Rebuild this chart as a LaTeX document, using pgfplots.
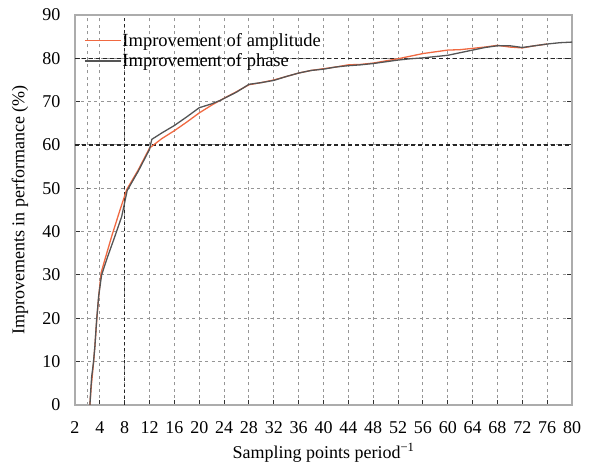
\documentclass[border=0pt]{standalone}
\usepackage{pgfplots}
\pgfplotsset{compat=1.18}
\usepackage{fontspec}
\setmainfont{Liberation Serif}
\definecolor{ampcol}{RGB}{240,105,65}
\definecolor{phacol}{RGB}{85,85,85}
\definecolor{gridcol}{RGB}{150,150,150}
\begin{document}
\begin{tikzpicture}
\begin{axis}[name=ax, scale only axis, width=497pt, height=390pt,
  xmin=0, xmax=20, ymin=0, ymax=90,
  xtick={0,...,20},
  xticklabels={2,4,8,12,16,20,24,28,32,36,40,44,48,52,56,60,64,68,72,76,80},
  ytick={0,10,...,90},
  minor xtick={0.5},
  xmajorgrids, ymajorgrids, xminorgrids,
  major grid style={gridcol, line width=1pt, dash pattern=on 3pt off 3.5pt},
  minor grid style={gridcol, line width=1pt, dash pattern=on 3pt off 3.5pt},
  axis line style={gray!65, line width=1.6pt},
  tick style={black!80, line width=1pt},
  tick align=inside, major tick length=5pt, minor tick length=0pt,
  xtick pos=bottom, ytick pos=both,
  /pgf/number format/assume math mode=true,
  ticklabel style={font=\fontsize{18}{18}\selectfont},
  yticklabel style={xshift=-11pt},
  xticklabel style={yshift=-13pt},
  xlabel={Sampling points period\textsuperscript{−1}},
  ylabel={Improvements in performance (\%)},
  label style={font=\fontsize{18}{18}\selectfont},
  xlabel style={at={(axis description cs:0.5,-0.136)}, anchor=base},
  ylabel style={at={(axis description cs:-0.111,0.5)}, anchor=center},
  legend style={draw=none, fill=none, at={(axis description cs:0.012,0.9615)}, anchor=north west,
    font=\fontsize{18.5}{18.5}\selectfont, nodes={inner sep=1pt}, row sep=4pt, legend cell align=left},
  legend image code/.code={\draw[#1] (0pt,0pt) -- (36pt,0pt);},
]
\draw[black!85, line width=1.1pt, dash pattern=on 3pt off 3pt] (axis cs:2,0) -- (axis cs:2,90);
\draw[black!85, line width=1.1pt, dash pattern=on 4pt off 3pt] (axis cs:0,60) -- (axis cs:20,60);
\draw[black!85, line width=1.1pt, dash pattern=on 4pt off 3pt] (axis cs:0,80) -- (axis cs:20,80);
\addplot[ampcol, line width=1.3pt] coordinates {
(0.6,0) (0.65,4) (0.7,7) (0.75,10) (0.8,13.5) (0.88,20) (0.97,26) (1.05,30.5)
(1.2,33.5) (1.48,39) (1.8,44.8) (2.08,49.7) (2.55,54.3) (3.0,59.3) (3.5,61.5)
(4.0,63.3) (4.5,65.3) (5.0,67.4) (5.5,69.2) (6.0,70.8) (6.5,72.3) (7.0,73.9)
(7.5,74.4) (8.0,75.0) (8.5,75.8) (9.0,76.6) (9.5,77.2) (10.0,77.6) (10.5,78.0)
(11.0,78.5) (11.5,78.6) (12.0,78.9) (12.5,79.4) (13.0,79.9) (13.5,80.5) (14.0,81.1)
(14.5,81.5) (15.0,81.9) (15.5,82.0) (16.0,82.3) (16.5,82.6) (17.0,83.0) (17.5,82.6)
(18.0,82.4) (18.5,82.9) (19.0,83.3)
};
\addlegendentry{Improvement of amplitude}
\addplot[phacol, line width=1.3pt] coordinates {
(0.6,0) (0.63,3) (0.67,6.5) (0.74,9.7) (0.8,13.5) (0.87,19.6) (0.95,25) (1.07,30)
(1.3,34) (1.61,39) (1.88,43.5) (2.1,49.5) (2.55,54) (3.0,59) (3.09,61.3) (3.5,62.8)
(4.0,64.5) (4.5,66.5) (5.0,68.6) (5.5,69.5) (5.85,70.3) (6.5,72.2) (7.0,74.0)
(7.5,74.4) (8.0,74.9) (8.5,75.8) (9.0,76.6) (9.5,77.2) (10.0,77.5) (10.5,78.0)
(11.0,78.3) (11.5,78.5) (12.0,78.8) (12.5,79.2) (13.0,79.6) (13.5,79.9) (14.0,80.1)
(14.5,80.4) (15.0,80.7) (15.5,81.3) (16.0,81.9) (16.5,82.5) (17.0,82.9) (17.5,82.9)
(18.0,82.5) (18.5,82.9) (19.0,83.3) (19.5,83.6) (20.0,83.75)
};
\addlegendentry{Improvement of phase}
\end{axis}
\pgfresetboundingbox
\path ([xshift=-75pt,yshift=-59pt]ax.south west) rectangle ([xshift=19pt,yshift=15pt]ax.north east);
\end{tikzpicture}
\end{document}
